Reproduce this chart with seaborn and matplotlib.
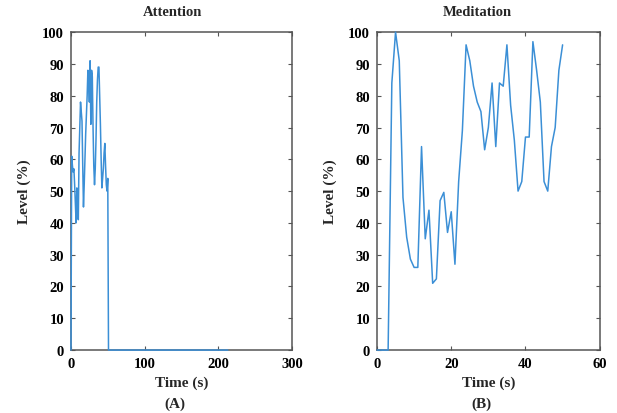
import matplotlib
matplotlib.use("Agg")
import matplotlib.pyplot as plt
import seaborn as sns
import pandas as pd

# EEG attention / meditation levels, one sample per second
attention_time = list(range(51)) + [51, 213]
attention_level = [0, 61, 58, 56, 57, 52, 46, 40, 51, 43,
                   41, 62, 70, 78, 75, 72, 58, 45, 52, 60,
                   68, 74, 80, 88, 85, 78, 91, 71, 88, 86,
                   70, 58, 52, 57, 66, 78, 85, 89, 89, 80,
                   71, 60, 51, 54, 57, 62, 65, 58, 52, 50,
                   54, 0, 0]

meditation_time = list(range(51))
meditation_level = [0, 0, 0, 0, 84, 100, 91, 48, 35.5, 28.6,
                    26, 26, 64, 35, 44, 21, 22.4, 47, 49.6, 37,
                    43.5, 27, 53, 69, 96, 91, 83, 78, 75, 63,
                    70, 84, 64, 84, 83, 96, 77, 66, 50, 53,
                    67, 67, 97, 88, 78, 53, 50, 64, 70, 88,
                    96]

sns.set_theme(style="ticks")
plt.rcParams["font.family"] = ["Liberation Serif", "DejaVu Serif"]
plt.rcParams["font.weight"] = "bold"

LINE = "#3b8fd6"

fig = plt.figure(figsize=(6.17, 4.14), dpi=100)
ax_a = fig.add_axes([0.115, 0.152, 0.358, 0.768])
ax_b = fig.add_axes([0.611, 0.152, 0.361, 0.768])

df_a = pd.DataFrame({"t": attention_time, "level": attention_level})
df_b = pd.DataFrame({"t": meditation_time, "level": meditation_level})

sns.lineplot(data=df_a, x="t", y="level", ax=ax_a, color=LINE, linewidth=1.1,
             clip_on=False, zorder=5)
sns.lineplot(data=df_b, x="t", y="level", ax=ax_b, color=LINE, linewidth=1.1,
             clip_on=False, zorder=5)

panels = [
    (ax_a, "Attention", 0.46, [0, 100, 200, 300], 300, "(A)"),
    (ax_b, "Meditation", 0.45, [0, 20, 40, 60], 60, "(B)"),
]
for ax, title, tx, xt, xmax, tag in panels:
    ax.set_xlim(0, xmax)
    ax.set_ylim(0, 100)
    ax.set_xticks(xt)
    ax.set_yticks(range(0, 101, 10))
    ax.tick_params(direction="in", length=3, width=0.8, colors="#555555",
                   labelcolor="black", labelsize=10.5, top=True, right=True, pad=5)
    for lab in ax.get_xticklabels() + ax.get_yticklabels():
        lab.set_fontweight("bold")
    for sp in ax.spines.values():
        sp.set_visible(True)
        sp.set_color("#555555")
        sp.set_linewidth(1.1)
        sp.set_zorder(2)
    ax.set_xlabel("Time (s)", fontsize=11, fontweight="bold", labelpad=4)
    ax.set_ylabel("Level (%)", fontsize=11, fontweight="bold", labelpad=8)
    ax.text(tx, 1.045, title, transform=ax.transAxes, ha="center", va="bottom",
            fontsize=10.5, fontweight="bold")
    ax.text(0.47, -0.147, tag, transform=ax.transAxes, ha="center", va="top",
            fontsize=11, fontweight="bold")

fig.savefig("out.png", dpi=100)
